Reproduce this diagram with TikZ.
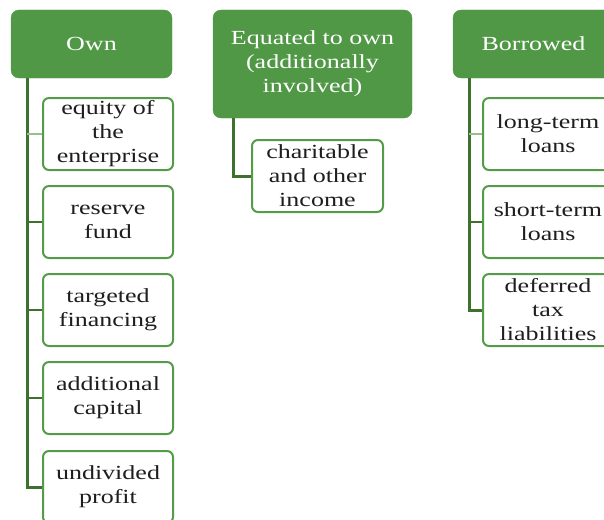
\documentclass[tikz,border=0pt]{standalone}
\usepackage{fontspec}
\setmainfont{Liberation Serif}[FakeStretch=1.3]
\begin{document}
\definecolor{hdrgreen}{RGB}{80,152,70}
\definecolor{boxgreen}{RGB}{84,156,72}
\definecolor{trunkgreen}{RGB}{62,112,46}
\definecolor{paleline}{RGB}{156,190,140}
\definecolor{ink}{RGB}{30,30,30}
\begin{tikzpicture}[x=1pt,y=-1pt,
  header/.style={rounded corners=8pt, fill=hdrgreen, draw=hdrgreen, text=white,
    align=center, font=\fontsize{20}{24}\selectfont, inner sep=0pt},
  leaf/.style={rounded corners=6pt, draw=boxgreen, line width=2pt, fill=white, text=ink,
    align=center, font=\fontsize{20}{24}\selectfont, inner sep=0pt,
    minimum width=130pt, minimum height=72pt},
  trunk/.style={draw=trunkgreen, line width=3pt},
  branch/.style={draw=trunkgreen, line width=2pt},
  palebranch/.style={draw=paleline, line width=2pt}]
\useasboundingbox (0,0) rectangle (604,519);
\begin{scope}
\clip (0,0) rectangle (604,519);

% ---- Own ----
\node[header, minimum width=161pt, minimum height=68pt] (own) at (91.5,44) {Own};
\coordinate (owntop) at (27,78);
\node[leaf] (o1) at (108,134) {equity of\\the\\enterprise};
\node[leaf] (o2) at (108,222) {reserve\\fund};
\node[leaf] (o3) at (108,310) {targeted\\financing};
\node[leaf] (o4) at (108,398) {additional\\capital};
\node[leaf] (o5) at (108,487) {undivided\\profit};
\draw[trunk] (owntop) |- (o5.west);
\draw[palebranch] (owntop |- o1.west) -- (o1.west);
\foreach \n in {o2,o3,o4} \draw[branch] (owntop |- \n.west) -- (\n.west);

% ---- Equated to own ----
\node[header, minimum width=199pt, minimum height=108pt] (eq) at (312.5,64)
  {Equated to own\\(additionally\\involved)};
\coordinate (eqtop) at (233,118);
\node[leaf, minimum width=131pt] (e1) at (317.5,176) {charitable\\and other\\income};
\draw[trunk] (eqtop) |- (e1.west);

% ---- Borrowed ----
\node[header, minimum width=161pt, minimum height=68pt] (bor) at (533.5,44) {Borrowed};
\coordinate (bortop) at (469,78);
\node[leaf] (b1) at (548,134) {long-term\\loans};
\node[leaf] (b2) at (548,222) {short-term\\loans};
\node[leaf] (b3) at (548,310) {deferred\\tax\\liabilities};
\draw[trunk] (bortop) |- (b3.west);
\draw[palebranch] (bortop |- b1.west) -- (b1.west);
\draw[branch] (bortop |- b2.west) -- (b2.west);
\end{scope}
\end{tikzpicture}
\end{document}
